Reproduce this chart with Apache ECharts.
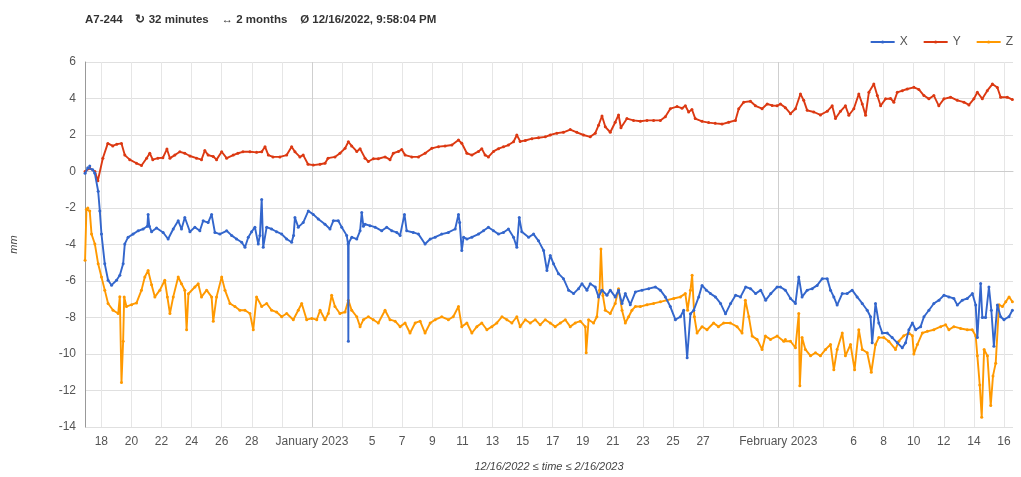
<!DOCTYPE html>
<html><head><meta charset="utf-8">
<script src="https://cdn.jsdelivr.net/npm/echarts@6/dist/echarts.min.js"></script>
<style>html,body{margin:0;padding:0;background:#fff}#c{width:1021px;height:477px}</style>
</head><body><div id="c"></div>
<script>
// time = day number counted from 1 Dec 2022 (Jan 1 = 32, Feb 1 = 63)
const titleText = 'A7-244    \u21bb 32 minutes    \u2194 2 months    \u00d8 12/16/2022, 9:58:04 PM';
const seriesNames = ['X', 'Y', 'Z'];
const xRange = [16.915, 78.6];
const yRange = [-14, 6];
const labelDays = [18,20,22,24,26,28,32,36,38,40,42,44,46,48,50,52,54,56,58,63,68,70,72,74,76,78];
const gridDays = [18,20,22,24,26,28,30,32,34,36,38,40,42,44,46,48,50,52,54,56,58,60,62,64,66,68,70,72,74,76,78];
const monthStarts = [32, 63];
const monthNames = {32: 'January 2023', 63: 'February 2023'};

const dataX = [
[16.92,-0.1],[17.10,0.2],[17.23,0.3],[17.43,0.1],[17.57,-0.1],[17.79,-1.08],[17.90,-2.16],[18.01,-3.43],[18.23,-5.06],[18.45,-5.96],
[18.68,-6.23],[19.01,-5.96],[19.23,-5.69],[19.45,-5.06],[19.56,-3.97],[19.78,-3.6],[20.11,-3.43],[20.45,-3.25],[20.78,-3.15],[21.06,-3.0],
[21.11,-2.35],[21.19,-3.0],[21.34,-3.3],[21.67,-3.1],[22.11,-3.34],[22.44,-3.7],[22.78,-3.15],[23.11,-2.7],[23.33,-3.15],[23.55,-2.52],
[23.89,-3.3],[24.22,-3.05],[24.55,-3.25],[24.77,-2.7],[25.10,-2.8],[25.33,-2.35],[25.55,-3.34],[25.88,-3.43],[26.33,-3.25],[26.66,-3.5],
[26.99,-3.7],[27.33,-3.88],[27.55,-4.15],[27.77,-3.6],[27.99,-3.3],[28.21,-3.05],[28.43,-3.97],[28.54,-3.5],[28.66,-1.53],[28.76,-4.15],
[28.99,-3.05],[29.32,-3.15],[29.65,-3.3],[29.99,-3.43],[30.32,-3.7],[30.65,-3.88],[30.78,-3.5],[30.87,-2.52],[31.09,-3.05],[31.42,-2.8],
[31.76,-2.16],[32.09,-2.35],[32.42,-2.6],[32.87,-2.89],[33.20,-3.15],[33.42,-2.7],[33.75,-2.7],[33.98,-3.05],[34.31,-3.5],[34.40,-3.97],
[34.42,-9.3],[34.44,-3.9],[34.65,-3.6],[34.98,-3.7],[35.20,-3.25],[35.31,-2.25],[35.42,-3.0],[35.53,-2.89],[35.86,-2.97],[36.20,-3.05],
[36.64,-3.25],[36.97,-3.05],[37.31,-3.25],[37.64,-3.34],[37.86,-3.5],[38.15,-2.35],[38.30,-3.25],[38.74,-3.34],[39.08,-3.43],[39.52,-3.97],
[39.86,-3.7],[40.19,-3.6],[40.63,-3.43],[41.07,-3.34],[41.52,-3.15],[41.74,-2.35],[41.82,-2.8],[41.96,-4.33],[42.08,-3.6],[42.30,-3.7],
[42.63,-3.6],[43.07,-3.43],[43.40,-3.25],[43.73,-3.05],[44.07,-3.25],[44.40,-3.43],[44.73,-3.34],[45.06,-3.15],[45.40,-3.6],[45.62,-4.15],
[45.78,-2.52],[45.95,-3.3],[46.40,-3.6],[46.73,-3.43],[47.06,-3.8],[47.40,-4.33],[47.62,-5.42],[47.84,-4.6],[48.06,-5.06],[48.39,-5.6],
[48.72,-5.87],[49.06,-6.5],[49.39,-6.69],[49.72,-6.42],[49.95,-6.15],[50.28,-6.5],[50.50,-6.15],[50.83,-6.33],[51.05,-6.87],[51.28,-6.5],
[51.61,-6.78],[51.83,-6.5],[52.16,-6.87],[52.38,-6.5],[52.61,-7.23],[52.83,-6.69],[53.16,-7.3],[53.50,-6.6],[53.94,-6.5],[54.38,-6.42],
[54.83,-6.33],[55.16,-6.5],[55.49,-6.87],[55.82,-7.4],[56.16,-8.12],[56.49,-7.96],[56.71,-7.6],[56.94,-10.2],[57.16,-7.8],[57.38,-7.6],
[57.71,-6.87],[57.93,-6.24],[58.22,-6.5],[58.49,-6.69],[58.82,-6.87],[59.16,-7.23],[59.49,-7.8],[59.83,-7.23],[60.16,-6.78],[60.49,-6.87],
[60.83,-6.33],[61.16,-6.42],[61.49,-6.69],[61.83,-6.5],[62.16,-7.05],[62.50,-6.69],[62.92,-6.33],[63.14,-6.33],[63.47,-6.5],[63.81,-6.96],
[64.14,-7.23],[64.36,-5.78],[64.58,-6.87],[64.92,-6.5],[65.25,-6.42],[65.58,-6.24],[65.92,-5.87],[66.25,-5.87],[66.47,-6.5],[66.69,-6.87],
[66.91,-7.32],[67.25,-6.69],[67.58,-6.69],[67.91,-6.5],[68.24,-6.87],[68.58,-7.23],[68.91,-7.6],[69.13,-7.96],[69.24,-9.39],[69.46,-7.23],
[69.68,-8.3],[69.91,-8.85],[70.24,-8.85],[70.57,-9.1],[70.91,-9.39],[71.24,-9.66],[71.46,-9.39],[71.68,-8.67],[71.91,-8.3],[72.13,-8.67],
[72.46,-8.5],[72.68,-7.96],[73.01,-7.6],[73.34,-7.23],[73.68,-7.05],[74.01,-6.78],[74.34,-6.87],[74.67,-6.96],[74.90,-7.32],[75.23,-7.05],
[75.56,-6.96],[75.90,-6.69],[76.12,-7.32],[76.23,-9.1],[76.45,-6.14],[76.56,-8.0],[76.78,-8.0],[77.00,-6.33],[77.16,-7.6],[77.33,-9.57],
[77.56,-7.32],[77.78,-7.96],[78.00,-8.12],[78.33,-7.96],[78.56,-7.6]
];

const dataY = [
[16.92,0.0],[17.23,0.18],[17.57,0.0],[17.77,-0.5],[18.10,0.73],[18.43,1.54],[18.76,1.4],[19.03,1.5],[19.34,1.54],[19.56,0.9],
[19.89,0.65],[20.34,0.45],[20.67,0.33],[21.01,0.73],[21.22,1.0],[21.42,0.65],[21.76,0.73],[22.09,0.75],[22.36,1.23],[22.56,0.73],
[22.89,0.9],[23.22,1.08],[23.55,1.0],[23.89,0.85],[24.33,0.73],[24.66,0.65],[24.88,1.15],[25.10,0.9],[25.44,0.82],[25.66,0.65],
[26.00,1.08],[26.33,0.73],[26.77,0.9],[27.08,1.0],[27.41,1.08],[27.88,1.08],[28.32,1.05],[28.66,1.08],[28.88,1.36],[29.10,0.9],
[29.41,0.8],[29.87,0.8],[30.32,0.9],[30.65,1.36],[30.87,1.08],[31.20,0.8],[31.42,0.9],[31.74,0.4],[32.09,0.35],[32.54,0.4],
[32.87,0.45],[33.07,0.73],[33.53,0.8],[33.86,1.0],[34.20,1.27],[34.42,1.63],[34.64,1.4],[34.98,1.1],[35.20,1.25],[35.53,0.73],
[35.75,0.55],[36.08,0.7],[36.41,0.7],[36.86,0.8],[37.19,0.65],[37.41,1.0],[37.75,1.1],[37.97,1.2],[38.19,0.9],[38.64,0.8],
[39.08,0.8],[39.52,1.0],[39.97,1.27],[40.41,1.36],[40.85,1.4],[41.30,1.45],[41.74,1.72],[41.96,1.55],[42.30,1.0],[42.63,0.9],
[43.07,1.1],[43.29,1.25],[43.51,0.9],[43.73,0.8],[44.07,1.1],[44.40,1.25],[44.73,1.35],[45.06,1.45],[45.40,1.63],[45.62,2.0],
[45.84,1.65],[46.18,1.7],[46.62,1.8],[47.06,1.85],[47.51,1.9],[47.84,2.0],[48.28,2.1],[48.72,2.15],[49.17,2.3],[49.61,2.15],
[50.05,2.0],[50.50,1.9],[50.83,2.1],[51.05,2.53],[51.28,3.04],[51.50,2.45],[51.83,2.15],[52.16,2.7],[52.38,3.1],[52.54,2.4],
[52.94,2.9],[53.38,2.8],[53.83,2.75],[54.27,2.8],[54.71,2.8],[55.16,2.8],[55.49,3.0],[55.82,3.44],[56.27,3.56],[56.60,3.47],
[56.82,3.6],[57.04,3.26],[57.26,3.4],[57.48,2.9],[57.93,2.75],[58.37,2.68],[58.81,2.64],[59.26,2.6],[59.70,2.7],[60.15,2.8],
[60.37,3.44],[60.70,3.8],[61.15,3.85],[61.48,3.6],[61.92,3.44],[62.26,3.7],[62.59,3.62],[62.92,3.6],[63.14,3.7],[63.47,3.5],
[63.81,3.17],[64.14,3.44],[64.47,4.25],[64.69,3.9],[64.92,3.35],[65.36,3.26],[65.80,3.1],[66.25,3.3],[66.58,3.6],[66.80,2.9],
[67.13,3.3],[67.46,3.6],[67.69,3.08],[68.02,3.44],[68.35,4.25],[68.58,3.7],[68.80,3.08],[69.02,4.34],[69.35,4.79],[69.58,4.16],
[69.80,3.6],[70.13,3.98],[70.46,4.0],[70.68,3.8],[70.91,4.34],[71.24,4.43],[71.57,4.52],[72.01,4.61],[72.34,4.5],[72.68,4.16],
[73.01,3.98],[73.34,4.16],[73.67,3.6],[74.01,3.98],[74.45,4.07],[74.90,3.9],[75.34,3.8],[75.67,3.65],[76.00,3.98],[76.23,4.34],
[76.56,3.98],[76.89,4.43],[77.23,4.79],[77.56,4.6],[77.78,4.07],[78.22,4.07],[78.56,3.94]
];

const dataZ = [
[16.92,-4.86],[17.01,-2.07],[17.10,-2.0],[17.23,-2.16],[17.35,-3.43],[17.57,-3.97],[17.79,-5.06],[18.01,-5.78],[18.23,-6.5],[18.45,-7.23],
[18.78,-7.6],[19.12,-7.78],[19.23,-6.86],[19.34,-11.56],[19.45,-9.3],[19.52,-6.87],[19.67,-7.4],[20.01,-7.3],[20.34,-7.2],[20.67,-6.5],
[20.89,-5.78],[21.11,-5.42],[21.34,-6.2],[21.56,-6.87],[21.89,-6.5],[22.22,-5.96],[22.39,-6.87],[22.56,-7.78],[22.78,-6.87],[23.11,-5.78],
[23.33,-6.15],[23.55,-6.5],[23.67,-8.67],[23.79,-6.7],[24.22,-6.33],[24.44,-6.15],[24.66,-6.87],[25.00,-6.5],[25.33,-6.87],[25.44,-8.2],
[25.66,-6.87],[26.00,-5.78],[26.22,-6.5],[26.55,-7.23],[26.88,-7.4],[27.21,-7.6],[27.55,-7.6],[27.88,-7.78],[28.10,-8.67],[28.32,-6.87],
[28.66,-7.4],[28.99,-7.23],[29.32,-7.6],[29.65,-7.7],[29.99,-7.96],[30.32,-7.78],[30.76,-8.12],[31.09,-7.6],[31.32,-7.23],[31.65,-8.12],
[31.99,-8.05],[32.32,-8.12],[32.54,-7.6],[32.87,-8.12],[33.09,-7.78],[33.31,-6.78],[33.53,-7.4],[33.86,-7.78],[34.20,-7.7],[34.42,-7.05],
[34.64,-7.6],[34.98,-7.96],[35.20,-8.5],[35.42,-8.12],[35.75,-7.96],[36.08,-8.12],[36.41,-8.3],[36.86,-7.6],[37.19,-8.12],[37.53,-8.2],
[37.86,-8.5],[38.19,-8.3],[38.52,-8.85],[38.86,-8.3],[39.19,-8.2],[39.52,-8.85],[39.86,-8.3],[40.19,-8.12],[40.63,-7.96],[41.07,-8.12],
[41.39,-7.96],[41.74,-7.4],[41.96,-8.5],[42.30,-8.3],[42.63,-8.85],[42.96,-8.5],[43.29,-8.3],[43.63,-8.67],[43.96,-8.5],[44.29,-8.3],
[44.63,-7.96],[44.96,-8.12],[45.29,-8.3],[45.62,-7.96],[45.84,-8.5],[46.18,-8.12],[46.51,-8.3],[46.84,-8.12],[47.17,-8.4],[47.51,-8.12],
[47.84,-8.3],[48.17,-8.5],[48.51,-8.3],[48.84,-8.12],[49.17,-8.5],[49.50,-8.3],[49.84,-8.2],[50.17,-8.5],[50.23,-9.93],[50.39,-8.12],
[50.72,-8.3],[50.94,-7.96],[51.12,-6.5],[51.21,-4.24],[51.34,-6.8],[51.50,-7.6],[51.83,-7.78],[52.16,-7.23],[52.38,-6.42],[52.61,-7.6],
[52.83,-8.3],[53.05,-7.96],[53.27,-7.6],[53.50,-7.4],[53.83,-7.4],[54.27,-7.3],[54.71,-7.23],[55.16,-7.14],[55.60,-7.05],[56.05,-6.96],
[56.49,-6.87],[56.82,-6.69],[56.97,-7.6],[57.16,-6.5],[57.27,-5.69],[57.42,-7.96],[57.60,-8.85],[57.93,-8.5],[58.26,-8.67],[58.70,-8.3],
[59.02,-8.5],[59.37,-8.3],[59.81,-8.3],[60.26,-8.5],[60.59,-8.85],[60.81,-7.05],[61.04,-7.96],[61.26,-9.02],[61.59,-9.2],[61.92,-9.75],
[62.14,-9.02],[62.48,-9.2],[62.92,-9.02],[63.36,-9.3],[63.47,-9.2],[63.81,-9.3],[64.14,-9.66],[64.36,-7.78],[64.43,-11.74],[64.58,-9.1],
[64.80,-9.75],[65.14,-10.1],[65.47,-9.93],[65.80,-10.1],[66.14,-9.75],[66.47,-9.48],[66.69,-10.86],[66.91,-9.75],[67.25,-8.85],[67.46,-10.1],
[67.80,-9.48],[68.07,-10.86],[68.35,-8.67],[68.58,-9.75],[68.91,-9.93],[69.18,-11.0],[69.46,-9.48],[69.68,-9.1],[70.01,-9.1],[70.34,-9.3],
[70.79,-9.75],[71.01,-9.3],[71.34,-9.0],[71.68,-8.85],[71.91,-9.0],[72.01,-10.0],[72.24,-9.48],[72.57,-8.85],[72.91,-8.76],[73.34,-8.67],
[73.79,-8.5],[74.12,-8.4],[74.34,-8.67],[74.67,-8.5],[75.12,-8.6],[75.56,-8.67],[75.89,-8.67],[76.12,-9.0],[76.23,-10.1],[76.39,-11.7],
[76.52,-13.46],[76.68,-9.75],[76.90,-10.1],[77.12,-12.82],[77.27,-11.2],[77.45,-10.5],[77.67,-7.3],[77.90,-7.4],[78.12,-7.14],[78.34,-6.87],
[78.56,-7.14]
];

const colors = ['#3366cc', '#dc3912', '#ff9900'];
const FONT = 'Liberation Sans, Arial, sans-serif';

function dayLabel(v) {
  const d = Math.round(v);
  if (monthNames[d]) return monthNames[d];
  if (d < 32) return String(d);
  if (d < 63) return String(d - 31);
  return String(d - 62);
}

const chart = echarts.init(document.getElementById('c'), null, {renderer: 'canvas'});
const allData = [dataX, dataY, dataZ];
const series = seriesNames.map((n, i) => {
  const s = {
    name: n, type: 'line', data: allData[i],
    showSymbol: true, symbol: 'circle', symbolSize: 3,
    lineStyle: {width: 1.9, color: colors[i]},
    itemStyle: {color: colors[i]},
    emphasis: {disabled: true}, animation: false, z: 5 - i
  };
  if (i === 0) {
    s.markLine = {
      silent: true, symbol: ['none', 'none'], label: {show: false},
      lineStyle: {color: '#cfcfcf', width: 1, type: 'solid'},
      data: monthStarts.map(m => ({xAxis: m})), z: 1
    };
  }
  return s;
});

chart.setOption({
  animation: false,
  color: colors,
  title: {
    text: titleText, left: 80, top: 9,
    textStyle: {fontFamily: FONT, fontSize: 11.5, fontWeight: 'bold', color: '#333'}
  },
  legend: {
    data: seriesNames, right: 3, top: 31, itemWidth: 24, itemHeight: 4, itemGap: 15,
    textStyle: {fontFamily: FONT, fontSize: 12, color: '#555'}
  },
  grid: {left: 84, right: 8, top: 62, bottom: 45, containLabel: false},
  xAxis: {
    type: 'value', min: xRange[0], max: xRange[1],
    name: '12/16/2022 \u2264 time \u2264 2/16/2023', nameLocation: 'middle', nameGap: 34,
    nameTextStyle: {fontFamily: FONT, fontStyle: 'italic', fontSize: 11, color: '#444'},
    axisLine: {show: true, lineStyle: {color: '#cccccc'}},
    axisTick: {show: false, customValues: gridDays},
    axisLabel: {customValues: labelDays, formatter: dayLabel, margin: 9,
      fontFamily: FONT, fontSize: 12, color: '#555'},
    splitLine: {show: true, lineStyle: {color: '#e6e6e6', width: 1}}
  },
  yAxis: {
    type: 'value', min: yRange[0], max: yRange[1], interval: 2,
    name: 'mm', nameLocation: 'middle', nameGap: 66, nameRotate: 90,
    nameTextStyle: {fontFamily: FONT, fontStyle: 'italic', fontSize: 11, color: '#444'},
    axisLine: {show: true, lineStyle: {color: '#999999'}},
    axisTick: {show: false},
    axisLabel: {margin: 9, fontFamily: FONT, fontSize: 12, color: '#555'},
    splitLine: {show: true, lineStyle: {color: '#e0e0e0', width: 1}}
  },
  series: series
});
</script>
</body></html>
